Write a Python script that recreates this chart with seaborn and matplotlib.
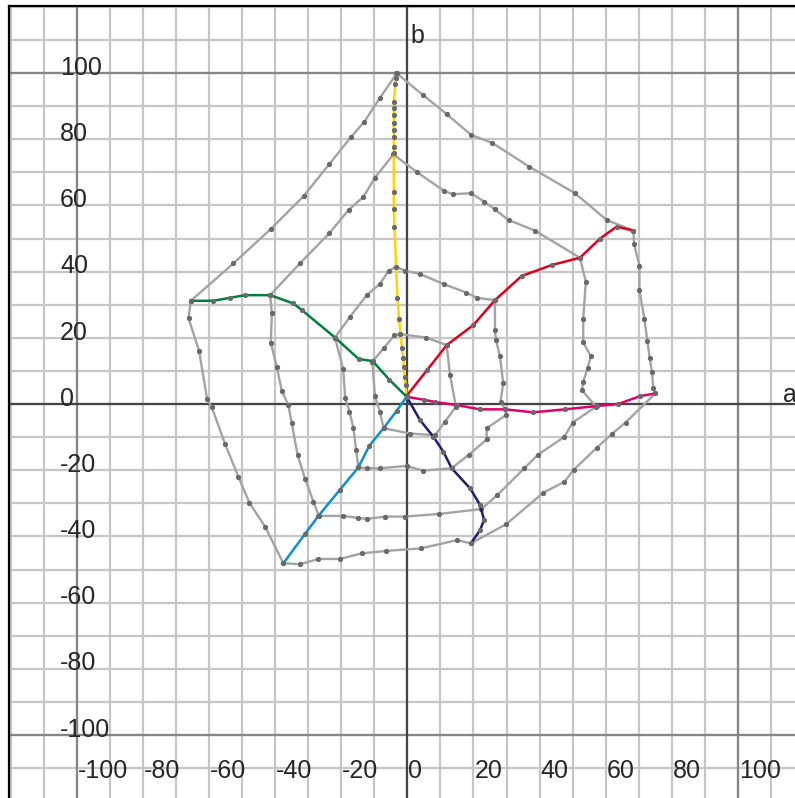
import seaborn as sns
from matplotlib import pyplot as plt

# hue lines from the neutral point outwards (a*, b*)
yellow_a = [-0.2, -0.5, -0.7, -1.1, -1.2, -1.6, -2.1, -2.5, -3.0, -3.4, -3.9, -4.1, -4.1, -4.1,
            -4.1, -4.1, -4.1, -4.1, -4.1, -4.1, -4.1, -3.6, -3.4, -3.4]
yellow_b = [2.5, 5.7, 8.2, 11.3, 13.8, 16.8, 21.1, 25.7, 32.1, 41.5, 53.6, 58.8, 64.1, 75.7,
            77.7, 80.8, 82.8, 84.8, 87.3, 89.3, 91.3, 96.7, 98.4, 99.9]
red_a = [-0.2, 6.0, 11.9, 20.0, 26.5, 34.6, 43.7, 52.2, 58.3, 63.3, 68.4]
red_b = [2.5, 10.3, 17.8, 23.9, 31.4, 38.7, 42.0, 44.2, 50.0, 53.6, 52.4]
magenta_a = [-0.2, 5.0, 8.5, 14.9, 22.0, 29.6, 38.1, 47.7, 57.3, 63.8, 70.4, 75.0]
magenta_b = [2.2, 1.3, 0.6, -0.3, -1.6, -1.6, -2.5, -1.6, -0.6, 0.0, 2.4, 3.2]
navy_a = [-0.2, 3.8, 7.9, 10.9, 13.4, 19.0, 22.0, 23.2, 22.0, 19.2]
navy_b = [2.2, -4.8, -9.9, -14.4, -19.4, -25.5, -30.5, -35.0, -38.1, -42.1]
blue_a = [-0.2, -3.2, -7.2, -11.5, -14.8, -20.5, -26.9, -31.0, -37.5]
blue_b = [2.2, -2.0, -7.3, -12.6, -19.1, -26.0, -33.8, -39.3, -48.1]
green_a = [-65.5, -58.7, -53.6, -49.1, -41.5, -34.5, -31.9, -21.9, -14.7, -10.5, -5.4, -0.2]
green_b = [31.2, 31.2, 32.1, 32.9, 32.9, 30.4, 28.4, 20.1, 13.6, 13.0, 7.3, 2.2]

# gray contours, innermost to outermost
ring2_a = [-10.6, -7.2, -3.9, -2.2, 5.7, 11.9, 12.9, 14.7, 11.4, 8.4, 0.8, -7.2, -8.3, -9.8, -10.6]
ring2_b = [12.8, 16.8, 20.8, 21.1, 20.1, 17.8, 8.8, -0.8, -5.3, -9.4, -8.9, -7.3, -2.3, 2.4, 12.8]
ring3_a = [-21.9, -17.3, -12.3, -8.3, -5.7, -3.4, -0.7, 3.8, 11.1, 17.8, 21.0, 26.5, 26.5, 26.8,
           28.0, 29.0, 28.2, 29.6, 29.9, 24.0, 24.0, 18.5, 13.4, 4.6, -0.2, -8.3, -12.3, -14.8,
           -15.5, -16.3, -17.5, -18.8, -19.4, -21.9]
ring3_b = [20.1, 26.4, 32.9, 36.3, 40.2, 41.5, 40.3, 39.3, 36.2, 33.7, 32.1, 31.4, 22.4, 19.3,
           14.5, 6.3, 0.7, -1.6, -3.3, -7.3, -10.7, -15.4, -19.4, -20.1, -18.7, -19.4, -19.4, -19.1,
           -13.9, -7.3, -2.3, 1.7, 10.5, 20.1]
ring4_a = [-41.5, -32.5, -23.6, -17.8, -13.3, -9.8, -4.2, 3.0, 11.1, 13.7, 19.3, 23.3, 26.5, 30.6,
           38.6, 52.2, 54.0, 53.2, 53.2, 55.5, 54.6, 53.2, 52.8, 57.1, 50.0, 47.5, 39.4, 35.4, 27.2,
           22.4, 9.7, -0.7, -6.7, -12.3, -14.8, -19.4, -26.8, -28.4, -30.9, -33.2, -35.0, -36.0,
           -38.0, -39.5, -41.3, -41.0, -41.5]
ring4_b = [32.9, 42.5, 51.6, 58.6, 62.6, 68.4, 75.4, 70.0, 64.4, 63.4, 63.7, 61.1, 58.8, 55.6,
           52.4, 44.2, 37.0, 25.7, 18.6, 14.5, 11.0, 6.7, 4.2, -0.8, -5.6, -9.9, -15.4, -19.4, -27.5,
           -31.7, -33.2, -34.0, -34.0, -34.7, -34.4, -33.8, -33.8, -29.5, -22.7, -15.4, -5.6, -0.3,
           4.0, 11.3, 18.5, 27.4, 32.9]
ring5_a = [-65.5, -52.6, -41.3, -31.4, -23.6, -17.1, -13.0, -8.3, -3.2, 4.7, 11.9, 19.3, 25.7, 36.9,
           50.7, 60.3, 68.4, 68.6, 70.2, 70.2, 71.7, 72.6, 73.3, 74.0, 74.4, 75.0, 66.0, 62.0, 57.3,
           50.3, 47.5, 41.1, 29.9, 19.2, 15.1, 4.1, -6.6, -13.8, -20.4, -26.9, -32.5, -37.5, -43.0,
           -47.8, -51.1, -55.1, -59.2, -60.6, -63.0, -66.2, -65.5]
ring5_b = [31.2, 42.5, 52.9, 62.8, 72.5, 80.6, 85.3, 92.5, 99.9, 93.4, 87.6, 81.3, 78.9, 71.7,
           63.7, 55.6, 52.4, 48.3, 41.8, 34.4, 25.7, 19.1, 14.0, 9.6, 4.7, 3.2, -5.6, -8.9, -13.2,
           -19.9, -23.5, -26.8, -36.3, -42.1, -41.1, -43.6, -44.4, -45.1, -46.8, -46.8, -48.4, -48.1,
           -37.1, -29.8, -22.0, -12.2, -0.8, 1.6, 16.1, 25.9, 31.2]

tick_values = [-100, -80, -60, -40, -20, 0, 20, 40, 60, 80, 100]

sns.set_style("white")
plt.rcParams['font.family'] = ['Liberation Sans', 'DejaVu Sans']

fig = plt.figure(figsize=(7.95, 7.98), dpi=100)
# axes runs a bit past the right and bottom edge, like the cropped original
ax = fig.add_axes([9 / 795, -3.9 / 798, 796.7 / 795, 795.7 / 798])
ax.set_xlim(-120.5, 120.5)
ax.set_ylim(-120.2, 120.2)

grid_ticks = list(range(-120, 121, 10))
ax.set_xticks(grid_ticks)
ax.set_yticks(grid_ticks)
ax.tick_params(length=0, labelbottom=False, labelleft=False)
ax.grid(True, color='#c6c6c6', lw=1.6, zorder=0)
for v in (-100, 100):
    ax.axvline(v, color='#858585', lw=1.6, zorder=1)
    ax.axhline(v, color='#858585', lw=1.6, zorder=1)
ax.axvline(0, color='#444444', lw=1.6, zorder=1)
ax.axhline(0, color='#444444', lw=1.6, zorder=1)
for side in ('left', 'top', 'right', 'bottom'):
    ax.spines[side].set_color('black')
    ax.spines[side].set_linewidth(1.6)

dot = '#6a6a6a'
for ra, rb in [(ring2_a, ring2_b), (ring3_a, ring3_b), (ring4_a, ring4_b), (ring5_a, ring5_b)]:
    sns.lineplot(x=ra, y=rb, sort=False, estimator=None, ax=ax, color='#a3a3a3', lw=1.7,
                 marker='o', markersize=3, markerfacecolor=dot, markeredgecolor=dot, zorder=3)

hue_lines = [
    (yellow_a, yellow_b, '#ffd400'),
    (red_a, red_b, '#e1001e'),
    (magenta_a, magenta_b, '#e2006c'),
    (navy_a, navy_b, '#1f1c6b'),
    (blue_a, blue_b, '#0b90d2'),
    (green_a, green_b, '#00803a'),
]
for ha, hb, col in hue_lines:
    sns.lineplot(x=ha, y=hb, sort=False, estimator=None, ax=ax, color=col, lw=1.8,
                 marker='o', markersize=3, markerfacecolor=dot, markeredgecolor=dot, zorder=4)

# tick labels sit inside the plot, as text
for v in tick_values:
    ax.text(-105, v - 0.5, str(v), fontsize=18, ha='left', va='baseline', zorder=5)
    ax.text(v + 0.3, -113.1, str(v), fontsize=18, ha='left', va='baseline', zorder=5)
ax.text(0.8, 109, 'b', fontsize=18, ha='left', va='baseline', zorder=5)
ax.text(113.6, 0.6, 'a', fontsize=18, ha='left', va='baseline', zorder=5)

fig.savefig('out.png', dpi=100)
